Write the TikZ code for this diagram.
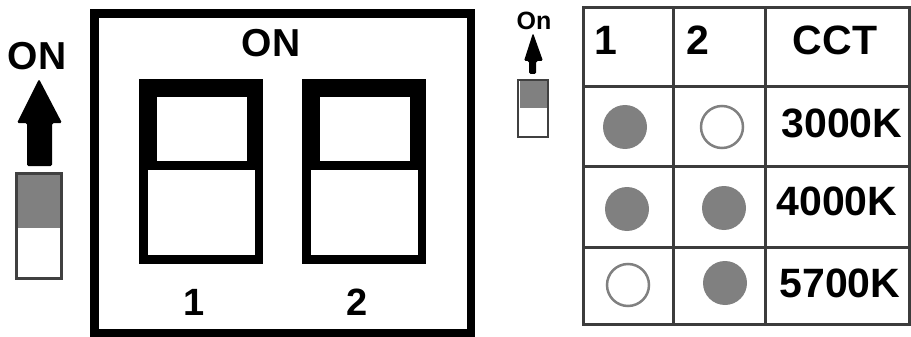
\documentclass[tikz,border=0pt]{standalone}
\usepackage{fontspec}
\setmainfont{Liberation Sans}
\usetikzlibrary{positioning}
\definecolor{dotgray}{HTML}{808080}
\definecolor{rulegray}{HTML}{3C3C3C}
\definecolor{edgegray}{HTML}{404040}

\begin{document}
\begin{tikzpicture}[x=1pt, y=-1pt,
      lbl/.style={font=\fontsize{#1}{#1}\selectfont\bfseries, inner sep=0pt},
      dipon/.style={circle, fill=dotgray, minimum size=44pt, inner sep=0pt},
      dipoff/.style={circle, draw=dotgray, line width=2.5pt, fill=white,
                     minimum size=42pt, inner sep=0pt},
      tablerule/.style={draw=rulegray, line width=3pt},
      slider/.style={draw=edgegray, line width=3pt, fill=white},
      uparrow/.style={fill=black, rounded corners=1.5pt}]
    \useasboundingbox (0,0) rectangle (911,337);
    % left: switch legend
    \node[lbl=39, anchor=base] (onl) at (37,70) {ON};
    \fill[uparrow] (39,79) -- (62,123) -- (52,123) -- (52,166) -- (27,166)
                   -- (27,123) -- (17,123) -- cycle;
    \draw[slider] (16,173) rectangle (61,278);
    \fill[dotgray] (17.5,174.5) rectangle (59.5,228);
    % middle: DIP switch body
    \draw[line width=8.5pt] (94.5,13.5) rectangle (471,333.5);
    \node[lbl=39, anchor=base] (onm) at (271,57) {ON};
    \foreach \x/\n in {139/1, 302/2} {
      \fill (\x,79) rectangle ++(124,185);
      \fill[white] (\x+18,97) rectangle ++(90,64);
      \fill[white] (\x+9,170) rectangle ++(107,85);
      \node[lbl=38, anchor=base] (sw\n) at (\x+55,315) {\n};
    }
    % right: small legend
    \node[lbl=25, anchor=base] (onr) at (534,30) {On};
    \fill[uparrow] (533,33) -- (543,61) -- (536,61) -- (536,74) -- (529,74)
                   -- (529,61) -- (524,61) -- cycle;
    \draw[slider, line width=2.5pt] (518,80) rectangle (548,137);
    \fill[dotgray] (519.5,81.5) rectangle (546.5,108);
    % right: CCT table
    \draw[tablerule] (583,8) rectangle (909,324);
    \foreach \y in {87,166,247}
      \draw[tablerule] (583,\y) -- (909,\y);
    \foreach \x in {673,765}
      \draw[tablerule] (\x,8) -- (\x,324);
    \node[lbl=41, anchor=base west] (h1) at (594,55) {1};
    \node[lbl=41, anchor=base west] (h2) at (686,55) {2};
    \node[lbl=41, anchor=base] (hcct) at (835,55) {CCT};
    \node[dipon] (a1) at (625,127) {};
    \node[dipoff] (b1) at (722,127) {};
    \node[lbl=41, anchor=base] (k1) at (842,137) {3000K};
    \node[dipon] (a2) at (627,209) {};
    \node[dipon] (b2) at (724,208) {};
    \node[lbl=41, anchor=base] (k2) at (837,215) {4000K};
    \node[dipoff] (a3) at (628,285) {};
    \node[dipon] (b3) at (725,283) {};
    \node[lbl=41, anchor=base] (k3) at (840,297) {5700K};
\end{tikzpicture}
\end{document}
